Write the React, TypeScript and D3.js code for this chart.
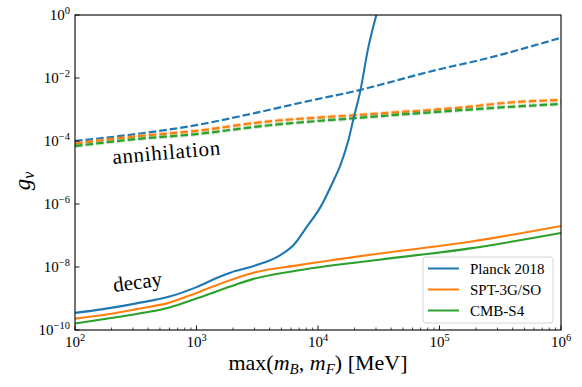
import * as d3 from 'd3';
import React from 'react';

// decay curves (solid)
const planckDecayX = [100, 170, 320, 600, 1000, 1550, 1900, 2950, 4900, 6300, 8100, 10500, 13500, 15100, 17800, 19500, 22400, 25700, 30200];
const planckDecayY = [3.5e-10, 4.6e-10, 7e-10, 1.15e-9, 2.3e-9, 4.9e-9, 6.6e-9, 1.07e-8, 2.4e-8, 5e-8, 1.9e-7, 8.1e-7, 5.8e-6, 1.5e-5, 1.07e-4, 4.7e-4, 4.2e-3, 7.8e-2, 1];
const sptDecayX = [100, 170, 320, 600, 1000, 1550, 2950, 7000, 28000, 178000, 1000000];
const sptDecayY = [2.3e-10, 3.0e-10, 4.6e-10, 7.4e-10, 1.5e-9, 2.9e-9, 6.6e-9, 1.15e-8, 2.5e-8, 6.3e-8, 2.0e-7];
const s4DecayX = [100, 170, 320, 600, 1000, 1900, 2950, 7000, 32000, 178000, 1000000];
const s4DecayY = [1.6e-10, 2.2e-10, 3.2e-10, 5.2e-10, 1.0e-9, 2.4e-9, 4.2e-9, 7.9e-9, 1.7e-8, 3.9e-8, 1.2e-7];

// annihilation curves (dashed)
const planckAnnX = [100, 316, 1000, 2600, 9100, 22400, 32000, 100000, 214000, 1000000];
const planckAnnY = [1.0e-4, 1.66e-4, 3.2e-4, 6.8e-4, 2.0e-3, 4.2e-3, 6.0e-3, 1.9e-2, 3.7e-2, 0.19];
const sptAnnX = [100, 316, 1000, 3500, 22400, 148000, 407000, 1000000];
const sptAnnY = [8.3e-5, 1.4e-4, 2.1e-4, 4.0e-4, 6.8e-4, 1.15e-3, 1.7e-3, 2.0e-3];
const s4AnnX = [100, 316, 1000, 3500, 22400, 148000, 407000, 1000000];
const s4AnnY = [6.9e-5, 1.15e-4, 1.66e-4, 3.0e-4, 5.5e-4, 9.5e-4, 1.23e-3, 1.5e-3];

const seriesNames = ['Planck 2018', 'SPT-3G/SO', 'CMB-S4'];
const colors = ['#1f77b4', '#ff7f0e', '#2ca02c'];
const yTickExps = [0, -2, -4, -6, -8, -10];
const xTickExps = [2, 3, 4, 5, 6];

const W = 582, H = 387;
const left = 75, right = 561, top = 15, bottom = 330;
const font = 'Liberation Serif, DejaVu Serif, serif';

export default function App() {
  const x = d3.scaleLog().domain([1e2, 1e6]).range([left, right]);
  const y = d3.scaleLog().domain([1e-10, 1]).range([bottom, top]);
  const line = d3.line<[number, number]>()
    .x(d => x(d[0]))
    .y(d => y(d[1]))
    .curve(d3.curveMonotoneX);
  const zip = (a: number[], b: number[]) => a.map((v, i) => [v, b[i]] as [number, number]);

  const decay = [zip(planckDecayX, planckDecayY), zip(sptDecayX, sptDecayY), zip(s4DecayX, s4DecayY)];
  const ann = [zip(planckAnnX, planckAnnY), zip(sptAnnX, sptAnnY), zip(s4AnnX, s4AnnY)];

  const minor = x.ticks().filter(t => Math.abs(Math.log10(t) - Math.round(Math.log10(t))) > 1e-6);

  return (
    <svg width={W} height={H} style={{ position: 'absolute', left: 0, top: 0, fontFamily: font }}>
      <defs>
        <clipPath id="plot">
          <rect x={left} y={top} width={right - left} height={bottom - top} />
        </clipPath>
      </defs>
      <rect width={W} height={H} fill="white" />
      <g clipPath="url(#plot)">
        {ann.map((d, i) => (
          <g key={'a' + i}>
            {i > 0 && <path d={line(d) || ''} fill="none" stroke={colors[i]} strokeOpacity={0.25}
              strokeWidth={4.2} strokeDasharray="7.6 3" />}
            <path d={line(d) || ''} fill="none" stroke={colors[i]} strokeWidth={2.2} strokeDasharray="7.6 3" />
          </g>
        ))}
        {decay.map((d, i) => (
          <path key={'d' + i} d={line(d) || ''} fill="none" stroke={colors[i]} strokeWidth={2.1} />
        ))}
      </g>

      {/* ticks */}
      {minor.map(t => (
        <line key={'m' + t} x1={x(t)} x2={x(t)} y1={bottom} y2={bottom - 2.5} stroke="black" strokeWidth={0.7} />
      ))}
      {xTickExps.map(e => (
        <g key={'x' + e}>
          <line x1={x(10 ** e)} x2={x(10 ** e)} y1={bottom} y2={bottom - 4.5} stroke="black" strokeWidth={0.9} />
          <text x={x(10 ** e)} y={347} fontSize={15} textAnchor="middle">
            10<tspan fontSize={10.5} dy={-6}>{e}</tspan>
          </text>
        </g>
      ))}
      {yTickExps.map(e => (
        <g key={'y' + e}>
          <line x1={left} x2={left + 4.5} y1={y(10 ** e)} y2={y(10 ** e)} stroke="black" strokeWidth={0.9} />
          <text x={70} y={y(10 ** e) + 5} fontSize={15} textAnchor="end">
            10<tspan fontSize={10.5} dy={-6}>{e === 0 ? '0' : '−' + Math.abs(e)}</tspan>
          </text>
        </g>
      ))}

      <rect x={left} y={top} width={right - left} height={bottom - top} fill="none" stroke="black" strokeWidth={1.1} />

      {/* annotations */}
      <text transform="translate(113,164) rotate(-5)" fontSize={21} textLength={108}>annihilation</text>
      <text transform="translate(114,292) rotate(-7.5)" fontSize={21}>decay</text>

      {/* axis labels */}
      <text x={318} y={370} fontSize={22} textAnchor="middle">
        max(<tspan fontStyle="italic">m</tspan><tspan fontStyle="italic" fontSize={15} dy={4}>B</tspan>
        <tspan dy={-4}>, </tspan><tspan fontStyle="italic">m</tspan><tspan fontStyle="italic" fontSize={15} dy={4}>F</tspan>
        <tspan dy={-4}>)  [MeV]</tspan>
      </text>
      <text transform="translate(30,181) rotate(-90)" fontSize={23} textAnchor="middle">
        <tspan fontStyle="italic">g</tspan><tspan fontStyle="italic" fontSize={16} dy={4}>ν</tspan>
      </text>

      {/* legend */}
      <rect x={423} y={257} width={130} height={66} rx={3} fill="white" fillOpacity={0.8} stroke="#cccccc" strokeWidth={0.8} />
      {seriesNames.map((n, i) => (
        <g key={n}>
          <line x1={428} x2={459} y1={268.5 + i * 21} y2={268.5 + i * 21} stroke={colors[i]} strokeWidth={2} />
          <text x={470} y={273.5 + i * 21} fontSize={15}>{n}</text>
        </g>
      ))}
    </svg>
  );
}
